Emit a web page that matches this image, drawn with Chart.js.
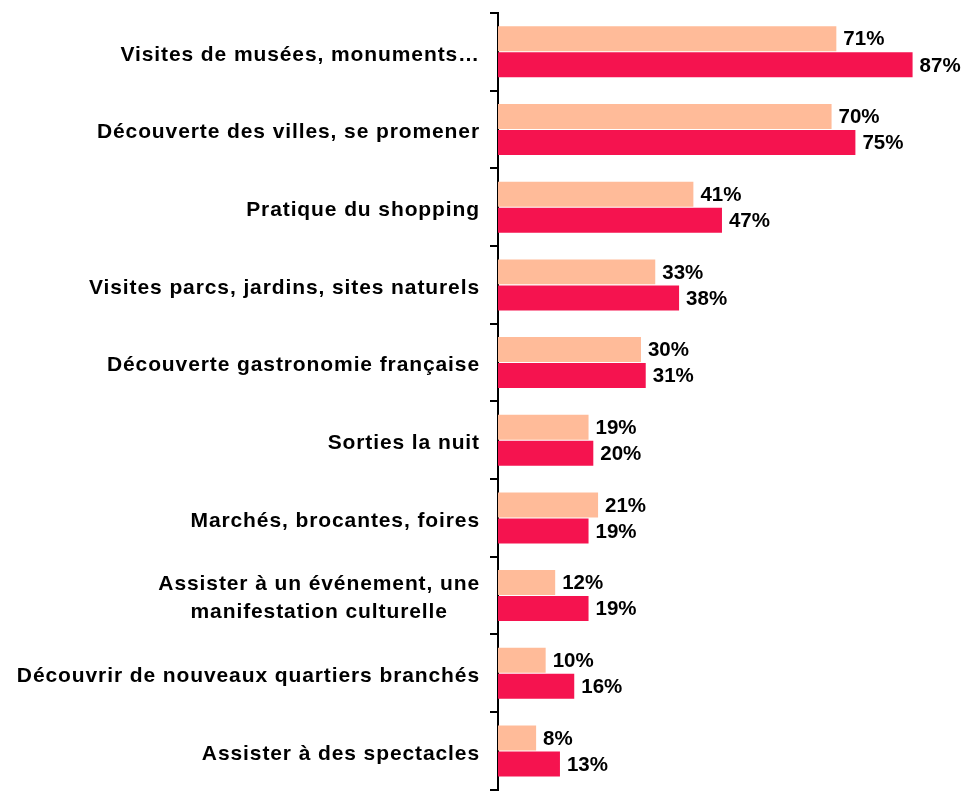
<!DOCTYPE html>
<html>
<head>
<meta charset="utf-8">
<script src="https://cdn.jsdelivr.net/npm/chart.js@4.4.1/dist/chart.umd.min.js"></script>
<style>
  html, body { margin: 0; padding: 0; background: #fff; overflow: hidden; }
  #wrap { width: 967px; height: 800px; }
</style>
</head>
<body>
<div id="wrap"><canvas id="chart" width="967" height="800"></canvas></div>
<script>
const categories = [
    'Visites de musées, monuments…',
    'Découverte des villes, se promener',
    'Pratique du shopping',
    'Visites parcs, jardins, sites naturels',
    'Découverte gastronomie française',
    'Sorties la nuit',
    'Marchés, brocantes, foires',
    ['Assister à un événement, une', 'manifestation culturelle'],
    'Découvrir de nouveaux quartiers branchés',
    'Assister à des spectacles'
];
const seriesA = [71, 70, 41, 33, 30, 19, 21, 12, 10, 8];
const seriesB = [87, 75, 47, 38, 31, 20, 19, 19, 16, 13];

const FONT = '"Liberation Sans", Arial, sans-serif';

// value labels at the end of each bar
const valueLabels = {
    id: 'valueLabels',
    afterDatasetsDraw(chart) {
        const ctx = chart.ctx;
        ctx.save();
        ctx.font = 'bold 20.5px ' + FONT;
        ctx.fillStyle = '#000';
        ctx.textAlign = 'left';
        ctx.textBaseline = 'middle';
        chart.data.datasets.forEach((ds, di) => {
            chart.getDatasetMeta(di).data.forEach((bar, i) => {
                ctx.fillText(ds.data[i] + '%', bar.x + 7, bar.y + 1);
            });
        });
        ctx.restore();
    }
};

// category labels: block right-aligned to the axis, lines centred inside the block
const categoryLabels = {
    id: 'categoryLabels',
    afterDraw(chart) {
        const ctx = chart.ctx;
        const y = chart.scales.y;
        const right = chart.chartArea.left - 18;
        ctx.save();
        ctx.font = 'bold 21px ' + FONT;
        ctx.letterSpacing = '0.9px';
        ctx.fillStyle = '#000';
        ctx.textAlign = 'center';
        ctx.textBaseline = 'middle';
        chart.data.labels.forEach((label, i) => {
            const lines = Array.isArray(label) ? label : [label];
            const w = Math.max(...lines.map(l => ctx.measureText(l).width));
            const cx = right - w / 2;
            const lh = 28;
            const y0 = y.getPixelForValue(i) - (lines.length - 1) * lh / 2 + 3;
            lines.forEach((l, k) => ctx.fillText(l, cx, y0 + k * lh));
        });
        ctx.restore();
    }
};

new Chart(document.getElementById('chart'), {
    type: 'bar',
    data: {
        labels: categories,
        datasets: [
            { data: seriesA, backgroundColor: '#FFBB99' },
            { data: seriesB, backgroundColor: '#F5134F' }
        ]
    },
    options: {
        indexAxis: 'y',
        responsive: false,
        animation: false,
        categoryPercentage: 0.67,
        barPercentage: 0.96,
        layout: { padding: { top: 13, bottom: 3, left: 0, right: 2 } },
        plugins: { legend: { display: false }, tooltip: { enabled: false } },
        scales: {
            x: { display: false, min: 0, max: 98 },
            y: {
                afterFit(scale) { scale.width = 498; },
                grid: {
                    drawOnChartArea: false,
                    drawTicks: true,
                    tickLength: 8,
                    color: '#000',
                    lineWidth: 2,
                    offset: true
                },
                border: { color: '#000', width: 2 },
                ticks: { callback: () => '' }
            }
        }
    },
    plugins: [valueLabels, categoryLabels]
});
</script>
</body>
</html>
